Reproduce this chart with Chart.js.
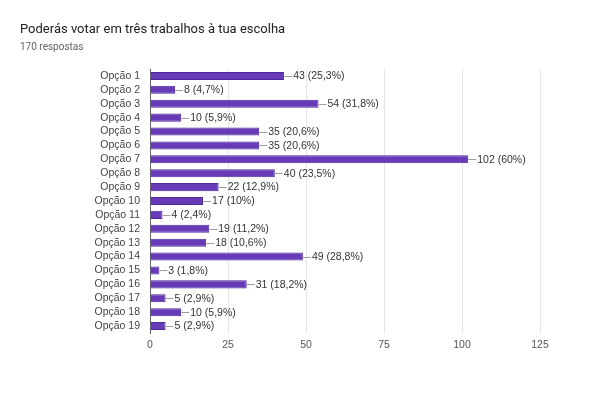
<!DOCTYPE html>
<html>
<head>
<meta charset="utf-8">
<script src="https://cdn.jsdelivr.net/npm/chart.js@4"></script>
<style>
  body { margin: 0; background: #fff; }
  #wrap { width: 600px; height: 399px; }
</style>
</head>
<body>
<div id="wrap"><canvas id="votesChart" width="600" height="399"></canvas></div>
<script>
// data
const categories = ['Opção 1', 'Opção 2', 'Opção 3', 'Opção 4', 'Opção 5', 'Opção 6', 'Opção 7', 'Opção 8', 'Opção 9', 'Opção 10',
  'Opção 11', 'Opção 12', 'Opção 13', 'Opção 14', 'Opção 15', 'Opção 16', 'Opção 17', 'Opção 18', 'Opção 19'];
const votes = [43, 8, 54, 10, 35, 35, 102, 40, 22, 17, 4, 19, 18, 49, 3, 31, 5, 10, 5];
const percents = ['25,3%', '4,7%', '31,8%', '5,9%', '20,6%', '20,6%', '60%', '23,5%', '12,9%', '10%',
  '2,4%', '11,2%', '10,6%', '28,8%', '1,8%', '18,2%', '2,9%', '5,9%', '2,9%'];
const xTicks = [0, 25, 50, 75, 100, 125];
const titleText = 'Poderás votar em três trabalhos à tua escolha';
const subtitleText = '170 respostas';

const HEAD_FONT = 'Roboto, Arial, sans-serif';
const FONT = '"Liberation Sans", Arial, sans-serif';

// title + subtitle drawn top-left like the forms summary
const headerPlugin = {
  id: 'header',
  afterDraw(chart) {
    const c = chart.ctx;
    c.save();
    c.textAlign = 'left';
    c.textBaseline = 'alphabetic';
    c.fillStyle = '#202124';
    c.font = '13px ' + HEAD_FONT;
    c.fillText(titleText, 20, 33);
    c.fillStyle = '#5f6368';
    c.font = '10px ' + HEAD_FONT;
    c.fillText(subtitleText, 20, 50);
    c.restore();
  }
};

// leader line + "n (p%)" after each bar
const valueLabels = {
  id: 'valueLabels',
  afterDatasetsDraw(chart) {
    const c = chart.ctx;
    const meta = chart.getDatasetMeta(0);
    c.save();
    c.font = '10.5px ' + FONT;
    c.textBaseline = 'middle';
    c.textAlign = 'left';
    meta.data.forEach((bar, i) => {
      const x = bar.x, y = bar.y;
      c.strokeStyle = '#9e9e9e';
      c.lineWidth = 1;
      c.beginPath();
      c.moveTo(x, Math.round(y) + 0.5);
      c.lineTo(x + 8, Math.round(y) + 0.5);
      c.stroke();
      c.fillStyle = '#333';
      c.fillText(votes[i] + ' (' + percents[i] + ')', x + 9, y + 0.5);
    });
    c.restore();
  }
};

const ctx = document.getElementById('votesChart').getContext('2d');
new Chart(ctx, {
  type: 'bar',
  data: {
    labels: categories,
    datasets: [{
      label: 'Votos',
      data: votes,
      backgroundColor: '#673ab7',
      borderColor: '#4a2a9a',
      borderWidth: 1,
      categoryPercentage: 0.58,
      barPercentage: 1
    }]
  },
  options: {
    indexAxis: 'y',
    responsive: false,
    animation: false,
    layout: { padding: { left: 0, right: 60, top: 69, bottom: 35 } },
    plugins: {
      legend: { display: false },
      tooltip: { enabled: false }
    },
    scales: {
      x: {
        min: 0,
        max: 125,
        afterBuildTicks(axis) { axis.ticks = xTicks.map(v => ({ value: v })); },
        afterFit(axis) { axis.height = 31; },
        grid: {
          color: '#e6e6e6',
          drawTicks: false
        },
        border: { display: false },
        ticks: {
          padding: 6,
          color: '#555',
          font: { family: FONT, size: 10.5 }
        }
      },
      y: {
        afterFit(axis) { axis.width = 150; },
        grid: { display: false, drawTicks: false },
        border: { display: true, color: '#666', width: 1 },
        ticks: {
          autoSkip: false,
          padding: 10,
          color: '#444',
          font: { family: FONT, size: 10.5 }
        }
      }
    }
  },
  plugins: [headerPlugin, valueLabels]
});
</script>
</body>
</html>
